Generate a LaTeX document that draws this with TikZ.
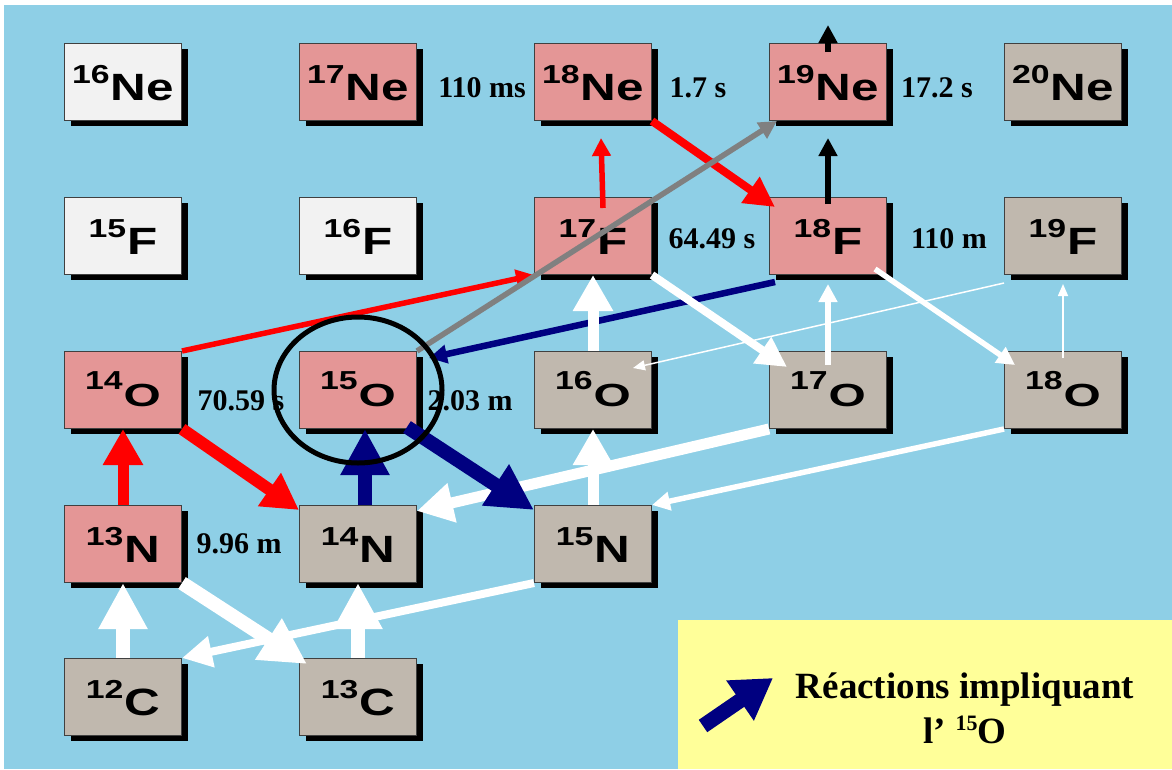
\documentclass[tikz,border=0pt]{standalone}
\usepackage{fontspec}
\newfontfamily\nucfont[FakeStretch=1.3]{Liberation Sans}
\newfontfamily\timefont{Liberation Serif}
\usetikzlibrary{arrows.meta,shadows}
\definecolor{skyback}{RGB}{142,207,230}
\definecolor{pinkbox}{RGB}{228,150,150}
\definecolor{tanbox}{RGB}{192,184,174}
\definecolor{whitebox}{RGB}{242,242,242}
\definecolor{legyellow}{RGB}{255,255,153}
\definecolor{navy}{RGB}{0,0,128}
\definecolor{grayarr}{RGB}{128,128,128}
% nuclide label: mass number raised, then the symbol
\newcommand{\nuc}[3][38]{\raisebox{17pt}{\fontsize{26}{26}\selectfont #2}\kern1pt{\fontsize{#1}{#1}\selectfont #3}}
\newcommand{\oxy}[1]{\nuc[32]{#1}{\scalebox{1.15}[1]{O}}}

\begin{document}
\begin{tikzpicture}[x=1pt,y=-1pt,
  box/.style={draw=black!75,line width=1pt,minimum width=117pt,minimum height=77pt,inner sep=0pt,
    text height=37pt,text depth=0pt,font=\nucfont\bfseries,
    drop shadow={shadow xshift=6pt,shadow yshift=-5pt,fill=black,opacity=1}},
  unstable/.style={box,fill=pinkbox},
  stable/.style={box,fill=tanbox},
  unknown/.style={box,fill=whitebox},
  orow/.style={text height=32pt},
  halflife/.style={anchor=base,font=\timefont\bfseries\fontsize{30}{30}\selectfont},
  hugearr/.style={line width=14pt,-{Triangle[length=46pt,width=46pt]}},
  thickarr/.style={line width=11pt,-{Triangle[length=36pt,width=38pt]}},
  midarr/.style={line width=8pt,-{Triangle[length=30pt,width=30pt]}},
  thinarr/.style={line width=5.5pt,-{Triangle[length=18pt,width=18pt]}},
  hairarr/.style={line width=1.5pt,-{Triangle[length=12pt,width=10pt]}}]
\useasboundingbox (0,0) rectangle (1172,769);
\fill[white] (0,0) rectangle (1172,769);
\fill[skyback] (4,5) rectangle (1172,769);

% nuclides
\node[unknown] (ne16) at (123,82) {\nuc{16}{Ne}};
\node[unstable] (ne17) at (358,82) {\nuc{17}{Ne}};
\node[unstable] (ne18) at (593,82) {\nuc{18}{Ne}};
\node[unstable] (ne19) at (828,82) {\nuc{19}{Ne}};
\node[stable] (ne20) at (1063,82) {\nuc{20}{Ne}};
\node[unknown] (f15) at (123,236) {\nuc{15}{F}};
\node[unknown] (f16) at (358,236) {\nuc{16}{F}};
\node[unstable] (f17) at (593,236) {\nuc{17}{F}};
\node[unstable] (f18) at (828,236) {\nuc{18}{F}};
\node[stable] (f19) at (1063,236) {\nuc{19}{F}};
\node[unstable,orow] (o14) at (123,390) {\oxy{14}};
\node[unstable,orow] (o15) at (358,390) {\oxy{15}};
\node[stable,orow] (o16) at (593,390) {\oxy{16}};
\node[stable,orow] (o17) at (828,390) {\oxy{17}};
\node[stable,orow] (o18) at (1063,390) {\oxy{18}};
\node[unstable] (n13) at (123,544) {\nuc{13}{N}};
\node[stable] (n14) at (358,544) {\nuc{14}{N}};
\node[stable] (n15) at (593,544) {\nuc{15}{N}};
\node[stable] (c12) at (123,697) {\nuc{12}{C}};
\node[stable] (c13) at (358,697) {\nuc{13}{C}};

% half-lives
\node[halflife] (t17ne) at (482,97) {110 ms};
\node[halflife] (t18ne) at (698,97) {1.7 s};
\node[halflife] (t19ne) at (937,97) {17.2 s};
\node[halflife] (t17f) at (712,248) {64.49 s};
\node[halflife] (t18f) at (949,248) {110 m};
\node[halflife] (t14o) at (241,410) {70.59 s};
\node[halflife] (t15o) at (470,410) {2.03 m};
\node[halflife] (t13n) at (239,553) {9.96 m};

% red
\draw[red,thickarr] (n13.north) -- (o14.south);
\draw[red,thickarr,line width=12pt] (o14.south east) -- ([yshift=-5pt]n14.north west);
\draw[red,thinarr] (o14.north east) -- (f17.south west);
\draw[red,thinarr] ([xshift=10pt,yshift=-11pt]f17.north) -- ([xshift=8pt,yshift=-17pt]ne18.south);
\draw[red,midarr] (ne18.south east) -- ([xshift=6pt,yshift=-10pt]f18.north west);
% gray and thin navy
\draw[grayarr,thinarr] (o15.north east) -- ([xshift=8pt]ne19.south west);
\draw[navy,thinarr,line width=6.5pt] ([xshift=6pt,yshift=-7pt]f18.south west) -- ([xshift=12pt,yshift=-7pt]o15.north east);
% white
\draw[white,hugearr] (c12.north) -- (n13.south);
\draw[white,hugearr] (n13.south east) -- ([xshift=8pt,yshift=-6pt]c13.north west);
\draw[white,hugearr] (c13.north) -- (n14.south);
\draw[white,midarr] (n15.south west) -- (c12.north east);
\draw[white,thickarr] (n15.north) -- (o16.south);
\draw[white,thickarr] (o16.north) -- (f17.south);
\draw[white,thickarr] (o17.south west) -- ([yshift=-6pt]n14.north east);
\draw[white,thinarr] (o18.south west) -- (n15.north east);
\draw[white,midarr] (f17.south east) -- ([xshift=18pt,yshift=-16pt]o17.north west);
\draw[white,thinarr] ([yshift=-14pt]o17.north) -- ([yshift=-9pt]f18.south);
\draw[white,thinarr] ([xshift=-12pt,yshift=6pt]f18.south east) -- ([xshift=11pt,yshift=-14pt]o18.north west);
\draw[white,hairarr] ([yshift=-7pt]o18.north) -- ([yshift=-9pt]f19.south);
\draw[white,hairarr] ([yshift=-8pt]f19.south west) -- ([xshift=-19pt,yshift=-17pt]o16.north east);
% thick navy
\draw[navy,hugearr] ([xshift=7pt]n14.north) -- ([xshift=7pt]o15.south);
\draw[navy,hugearr] ([xshift=-10pt,yshift=2pt]o15.south east) -- ([yshift=-5pt]n15.north west);
% black
\coordinate (ne19top) at (828,25);
\draw[black,thinarr] ([yshift=-7pt]f18.north) -- ([yshift=-17pt]ne19.south);
\draw[black,thinarr] ([yshift=-9pt]ne19.north) -- (ne19top);

\draw[line width=5pt] (o15) ellipse [x radius=84pt,y radius=73pt];

% legend
\fill[legyellow] (678,620) rectangle (1172,769);
\coordinate (legtail) at (703,726); \coordinate (leghead) at (773,678);
\draw[navy,line width=15pt,-{Triangle[length=40pt,width=46pt]}] (legtail) -- (leghead);
\node[anchor=base,font=\timefont\bfseries\fontsize{37}{37}\selectfont] (leg1) at (965,698) {Réactions impliquant};
\node[anchor=base,font=\timefont\bfseries\fontsize{37}{37}\selectfont] (leg2) at (965,743) {l’ \raisebox{13pt}{\fontsize{22}{22}\selectfont 15}O};
\end{tikzpicture}
\end{document}
